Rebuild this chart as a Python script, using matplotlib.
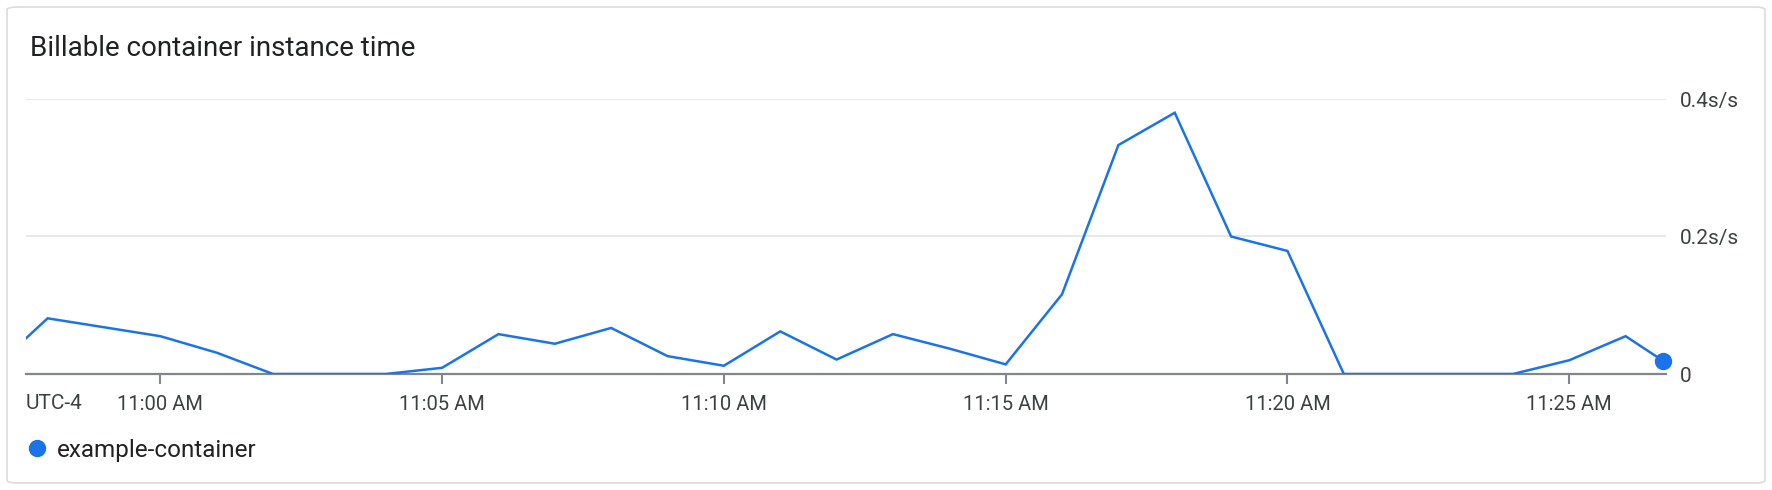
import matplotlib
matplotlib.use("Agg")
import matplotlib.pyplot as plt
import matplotlib.dates as mdates
from matplotlib.patches import FancyBboxPatch
from matplotlib.lines import Line2D
import pandas as pd

plt.rcParams['font.family'] = ['Roboto', 'DejaVu Sans']

# ---- data ----
title = "Billable container instance time"
series_name = "example-container"
times = pd.to_datetime([
    "2024-01-01 10:57:00", "2024-01-01 10:58:00", "2024-01-01 10:59:00", "2024-01-01 11:00:00",
    "2024-01-01 11:01:00", "2024-01-01 11:02:00", "2024-01-01 11:03:00", "2024-01-01 11:04:00",
    "2024-01-01 11:05:00", "2024-01-01 11:06:00", "2024-01-01 11:07:00", "2024-01-01 11:08:00",
    "2024-01-01 11:09:00", "2024-01-01 11:10:00", "2024-01-01 11:11:00", "2024-01-01 11:12:00",
    "2024-01-01 11:13:00", "2024-01-01 11:14:00", "2024-01-01 11:15:00", "2024-01-01 11:16:00",
    "2024-01-01 11:17:00", "2024-01-01 11:18:00", "2024-01-01 11:19:00", "2024-01-01 11:20:00",
    "2024-01-01 11:21:00", "2024-01-01 11:22:00", "2024-01-01 11:23:00", "2024-01-01 11:24:00",
    "2024-01-01 11:25:00", "2024-01-01 11:26:00", "2024-01-01 11:26:40",
])
values = [
    0.005, 0.081, 0.068, 0.055,
    0.031, 0.0, 0.0, 0.0,
    0.009, 0.058, 0.044, 0.067,
    0.026, 0.012, 0.062, 0.021,
    0.058, 0.037, 0.014, 0.116,
    0.333, 0.380, 0.200, 0.179,
    0.0, 0.0, 0.0, 0.0,
    0.020, 0.055, 0.019,
]
x_start = pd.Timestamp("2024-01-01 10:57:37")
x_end = pd.Timestamp("2024-01-01 11:26:43")
y_ticks = [0, 0.2, 0.4]
y_tick_labels = ["0", "0.2s/s", "0.4s/s"]
x_ticks = pd.to_datetime(["2024-01-01 11:00:00", "2024-01-01 11:05:00", "2024-01-01 11:10:00",
                          "2024-01-01 11:15:00", "2024-01-01 11:20:00", "2024-01-01 11:25:00"])
tz_label = "UTC-4"

W, H = 1772, 490
fig = plt.figure(figsize=(W / 100, H / 100), dpi=100)

# card border
card = FancyBboxPatch((7 / W, 7 / H), (W - 14) / W, (H - 14) / H,
                      boxstyle="round,pad=0,rounding_size=0.006",
                      transform=fig.transFigure, facecolor="white",
                      edgecolor="#dadce0", linewidth=1.2, zorder=-5)
fig.patches.append(card)

blue = "#1a73e8"
left, right = 26, 1666
bottom, top = 374, 99
ax = fig.add_axes([left / W, (H - bottom) / H, (right - left) / W, (bottom - top) / H])
ax.set_facecolor("none")
ax.set_zorder(2)

ax.plot(times, values, color=blue, lw=1.8, solid_joinstyle="miter", zorder=3)
ax.plot(times[-1:], values[-1:], 'o', color=blue, markersize=11.5, clip_on=False, zorder=4)

ax.set_xlim(x_start, x_end)
ax.set_ylim(0, 0.4)

for s in ["top", "left", "right"]:
    ax.spines[s].set_visible(False)
ax.spines["bottom"].set_color("#80868b")
ax.spines["bottom"].set_linewidth(1.6)
ax.spines["bottom"].set_zorder(2)

ax.set_yticks(y_ticks)
ax.set_yticklabels(y_tick_labels)
ax.yaxis.tick_right()
ax.tick_params(axis="y", length=0, pad=10, labelsize=15, labelcolor="#3c4043")
ax.yaxis.grid(True, color="#e6e6e6", lw=1.3)
ax.set_axisbelow(True)

ax.set_xticks(x_ticks)
ax.xaxis.set_major_formatter(mdates.DateFormatter("%I:%M %p"))
ax.tick_params(axis="x", length=7, width=1.5, color="#80868b", pad=8,
               labelsize=14.5, labelcolor="#3c4043")

fig.text(left / W, 1 - 403 / H, tz_label, ha="left", va="center",
         fontsize=15, color="#3c4043")

fig.text(30 / W, 1 - 49 / H, title, ha="left", va="center",
         fontsize=20, color="#202124")

handle = Line2D([], [], marker="o", color=blue, linestyle="none", markersize=11.5)
fig.legend([handle], [series_name], loc="center left",
           bbox_to_anchor=(26 / W, 1 - 450 / H), frameon=False,
           fontsize=17.5, handlelength=0.9, handletextpad=0.35, labelcolor="#202124",
           borderaxespad=0, borderpad=0)

fig.savefig("out.png", dpi=100)
